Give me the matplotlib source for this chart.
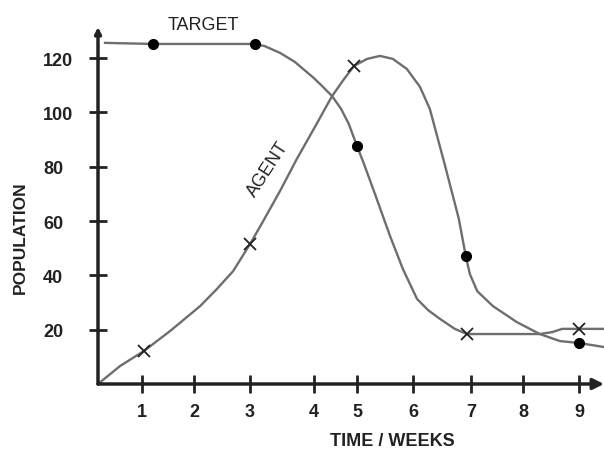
import numpy as np
import matplotlib
matplotlib.use("Agg")
import matplotlib.pyplot as plt

plt.rcParams['font.family'] = ['Liberation Sans', 'DejaVu Sans']

# hand drawn x axis: the week ticks are not evenly spaced
week_ticks = [0, 1, 2, 3, 4, 5, 6, 7, 8, 9, 9.5]
tick_pos = [98, 142, 194, 250, 314, 357, 413, 471, 523, 579, 607]

# curve that starts flat (target dots on top)
curve_a_wk = [0.16, 1.21, 3.08, 3.23, 3.47, 3.70, 3.98, 4.19, 4.42, 4.63, 4.81, 5.0,
              5.125, 5.32, 5.59, 5.82, 6.07, 6.26, 6.47, 6.72, 6.93, 8.30, 8.52,
              8.70, 9.0, 9.45]
curve_a_pop = [125.6, 125.2, 125.2, 124.4, 121.9, 118.6, 113.0, 109.7, 106.0, 101.3, 95.7, 87.6,
               81.0, 70.0, 54.5, 42.3, 31.3, 27.2, 23.9, 20.3, 18.4, 18.4, 19.1,
               20.3, 20.3, 20.3]

# curve that starts at zero (agent crosses)
curve_b_wk = [0, 0.5, 1.04, 1.54, 2.11, 2.41, 2.70, 3.0, 3.19, 3.47, 3.73, 4.02,
              4.42, 4.70, 4.93, 5.18, 5.41, 5.64, 5.89, 6.12, 6.29, 6.55, 6.79, 6.91,
              6.98, 7.12, 7.42, 7.88, 8.30, 8.66, 9.0, 9.45]
curve_b_pop = [0, 6.6, 12.2, 19.5, 28.7, 35.0, 41.6, 51.5, 59.3, 71.1, 82.8, 94.6,
               106.0, 112.3, 117.1, 119.7, 120.8, 119.7, 116.0, 109.4, 101.3, 80.6, 60.8, 47.1,
               40.5, 34.2, 28.7, 22.8, 18.4, 15.8, 15.1, 13.6]

target_wk = [1.21, 3.08, 5.0, 6.91, 9.0]
target_pop = [125.2, 125.2, 87.6, 47.1, 15.1]
agent_wk = [1.04, 3.0, 4.93, 6.93, 9.0]
agent_pop = [12.2, 51.5, 117.1, 18.4, 20.3]

x_labels = ['1', '2', '3', '4', '5', '6', '7', '8', '9']
y_ticks = [20, 40, 60, 80, 100, 120]


def fwd(x):
    return np.interp(x, week_ticks, tick_pos)


def inv(p):
    return np.interp(p, tick_pos, week_ticks)


W, H = 604, 456
fig = plt.figure(figsize=(W / 100, H / 100), dpi=100)
ax = fig.add_axes([98 / W, (H - 385) / H, (604 - 98) / W, (385 - 28) / H])
ax.set_xscale('function', functions=(fwd, inv))
ax.set_xlim(0, inv(604))
ax.set_ylim(0, (385 - 28) / 2.716)

line_c = '#6e6e6e'
ax.plot(curve_a_wk, curve_a_pop, color=line_c, lw=1.7, zorder=2, solid_joinstyle='round')
ax.plot(curve_b_wk, curve_b_pop, color=line_c, lw=1.7, zorder=2, solid_joinstyle='round')
ax.plot(target_wk, target_pop, 'o', color='k', ms=7, zorder=3, clip_on=False)
ax.plot(agent_wk, agent_pop, 'x', color='#222222', ms=8, mew=1.3, zorder=3, clip_on=False)

for s in ax.spines.values():
    s.set_visible(False)
arrow = dict(arrowstyle='-|>', lw=2.5, color='#222222', mutation_scale=16, shrinkA=0, shrinkB=0)
ax.annotate('', xy=(1.0, 0), xytext=(0, 0), xycoords='axes fraction', arrowprops=arrow)
ax.annotate('', xy=(0, 1.0), xytext=(0, 0), xycoords='axes fraction',
            arrowprops=dict(arrow, mutation_scale=9))

ax.set_xticks(range(1, 10))
ax.set_xticklabels(x_labels, fontsize=13, fontweight='bold', color='#222222')
ax.set_yticks(y_ticks)
ax.set_yticklabels([str(v) for v in y_ticks], fontsize=13, fontweight='bold', color='#222222')
ax.xaxis.set_minor_locator(plt.NullLocator())
ax.tick_params(axis='x', direction='inout', length=13, width=2, pad=7, colors='#222222')
ax.tick_params(axis='y', direction='inout', length=13, width=2, pad=33, colors='#222222')
for lab in ax.get_yticklabels():
    lab.set_horizontalalignment('left')

ax.text(2.16, 132.2, 'TARGET', fontsize=13, ha='center', va='center', color='#222222', clip_on=False)
ax.text(3.28, 79.2, 'AGENT', fontsize=13, ha='center', va='center', rotation=57, color='#222222')

fig.text(392 / W, 1 - 442 / H, 'TIME / WEEKS', fontsize=13, fontweight='bold',
         ha='center', va='center', color='#222222')
fig.text(20 / W, 1 - 238 / H, 'POPULATION', fontsize=12.5, fontweight='bold',
         rotation=90, ha='center', va='center', color='#222222')

fig.savefig('out.png', dpi=100)
